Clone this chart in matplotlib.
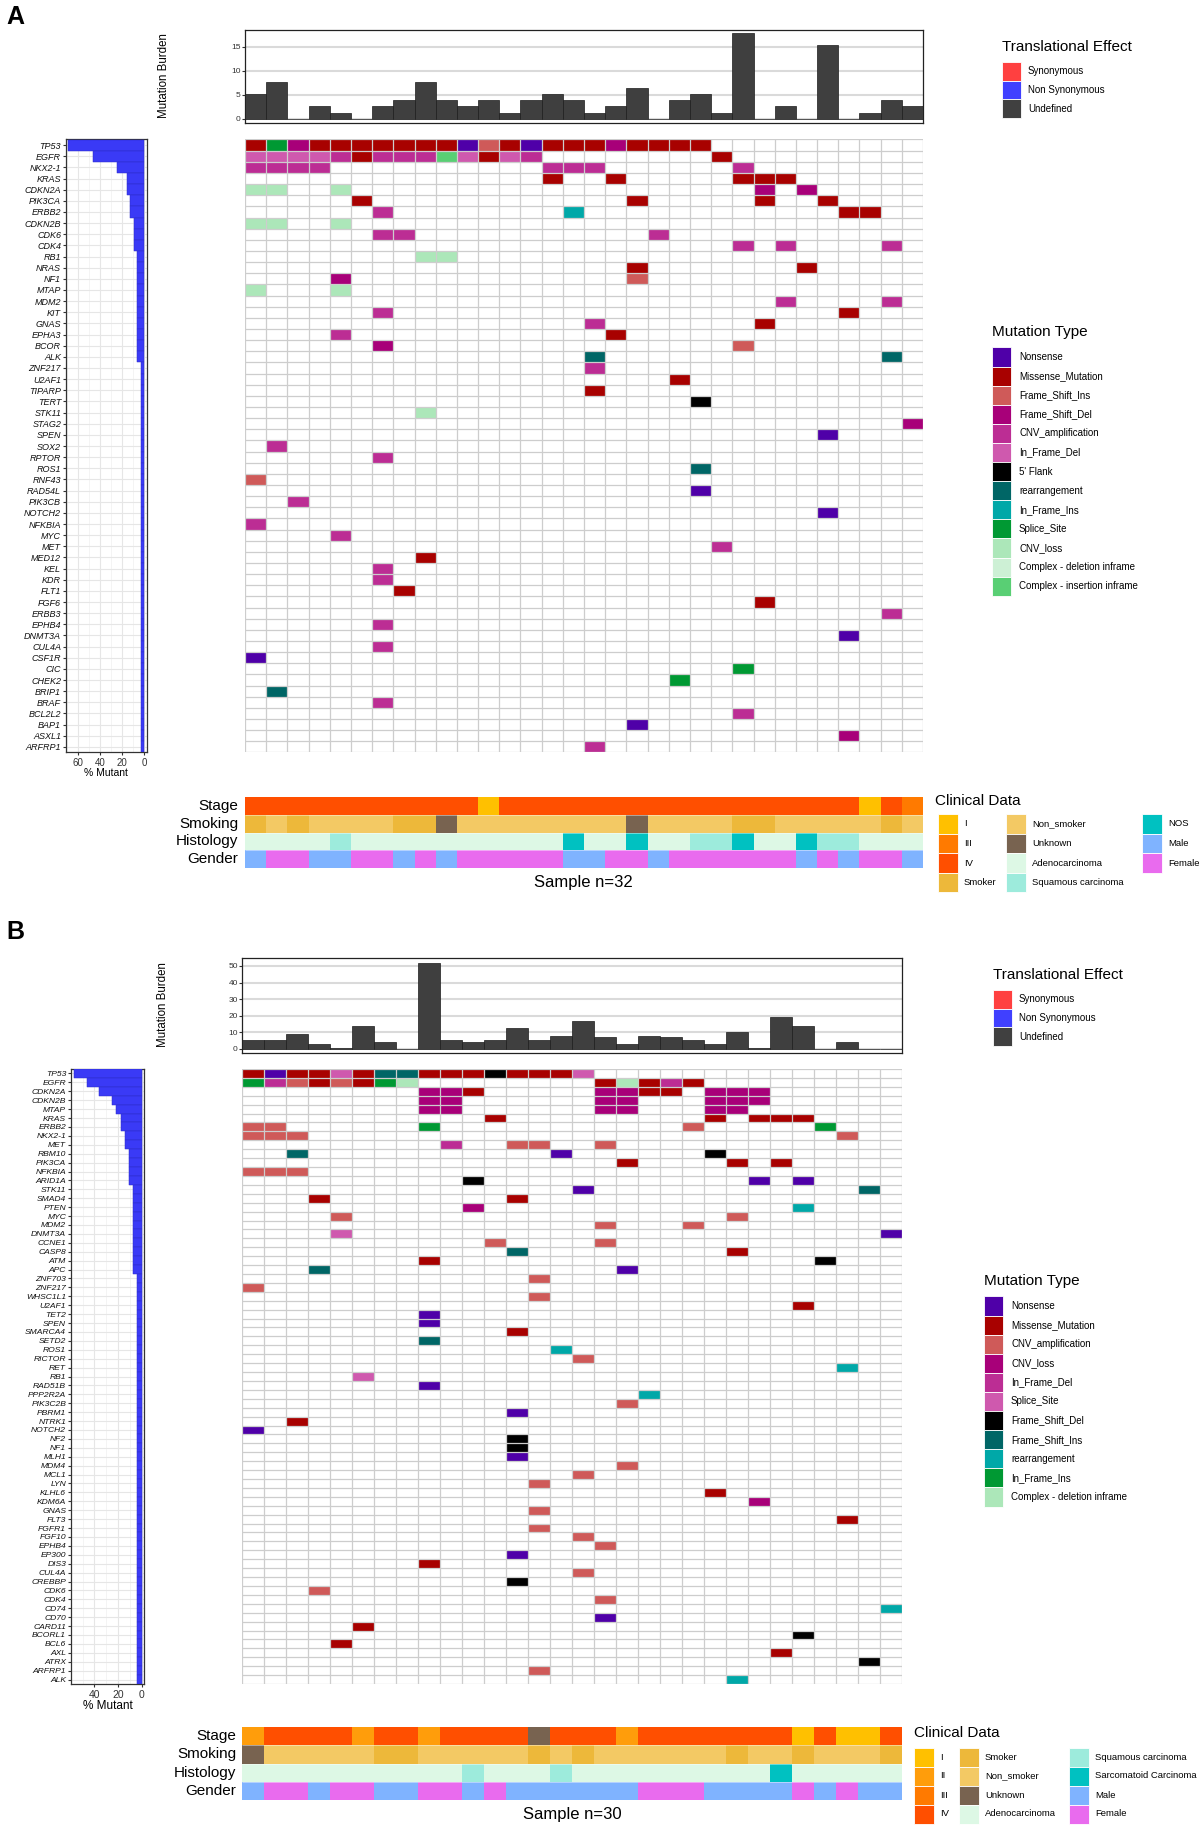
"""
Two waterfall (oncoplot) panels: mutation burden on top, % mutant bars on the
left, the gene x sample mutation grid, clinical tracks and legends.

Output:
    out.png
"""

import matplotlib.pyplot as plt
from matplotlib.patches import Rectangle


# ---------------------------------------------------------------------
# Plot style
# ---------------------------------------------------------------------

plt.rcParams.update({
    "font.family": ["Liberation Sans", "DejaVu Sans"],
    "font.size": 8,
})

W, H = 1202, 1827

# GenVisR-style mutation palette, used in legend order
PALETTE = ["#4F00A8", "#A80100", "#CF5A59", "#A80079", "#BC2D94", "#CF59AE",
           "#000000", "#006666", "#00A8A8", "#009933", "#ACE7B9", "#CDF0D5",
           "#59CF74"]

BAR_BLUE = "#3A3AF6"
BURDEN_GREY = "#3F3F3F"
TE_LABELS = ["Synonymous", "Non Synonymous", "Undefined"]
TE_COLORS = ["#FF4040", "#4040FF", "#404040"]

CLIN_COLORS = {
    "I": "#FFC000", "II": "#FF9D0B", "III": "#FF7A00", "IV": "#FF4F00",
    "Smoker": "#EDB83A", "Non_smoker": "#F3C964", "Unknown": "#786350",
    "Adenocarcinoma": "#DDF8E5", "Squamous carcinoma": "#9DEBDC",
    "NOS": "#00C1C1", "Sarcomatoid Carcinoma": "#00C1C1",
    "Male": "#7FB3FF", "Female": "#E96BEE",
}
CLIN_TRACKS = ["Stage", "Smoking", "Histology", "Gender"]


# ---------------------------------------------------------------------
# Panel A data (32 samples)
# ---------------------------------------------------------------------

GENES_A = ["TP53", "EGFR", "NKX2-1", "KRAS", "CDKN2A", "PIK3CA", "ERBB2",
           "CDKN2B", "CDK6", "CDK4", "RB1", "NRAS", "NF1", "MTAP", "MDM2",
           "KIT", "GNAS", "EPHA3", "BCOR", "ALK", "ZNF217", "U2AF1", "TIPARP",
           "TERT", "STK11", "STAG2", "SPEN", "SOX2", "RPTOR", "ROS1", "RNF43",
           "RAD54L", "PIK3CB", "NOTCH2", "NFKBIA", "MYC", "MET", "MED12",
           "KEL", "KDR", "FLT1", "FGF6", "ERBB3", "EPHB4", "DNMT3A", "CUL4A",
           "CSF1R", "CIC", "CHEK2", "BRIP1", "BRAF", "BCL2L2", "BAP1",
           "ASXL1", "ARFRP1"]

TYPES_A = ["Nonsense", "Missense_Mutation", "Frame_Shift_Ins",
           "Frame_Shift_Del", "CNV_amplification", "In_Frame_Del", "5' Flank",
           "rearrangement", "In_Frame_Ins", "Splice_Site", "CNV_loss",
           "Complex - deletion inframe", "Complex - insertion inframe"]
CODES_A = ["N", "M", "I", "D", "A", "d", "F", "R", "i", "S", "L", "c", "C"]

# one string per gene, one character per sample ('.' = no call)
MUT_A = [
    "MSDMMMMM MMNIMNMM MDMMMM.. ........",  # TP53
    "ddddAMAA ACdMdA.. ......M. ........",  # EGFR
    "AAAA.... ......AA A......A ........",  # NKX2-1
    "........ ......M. .M.....M MM......",  # KRAS
    "LL..L... ........ ........ D.D.....",  # CDKN2A
    ".....M.. ........ ..M..... M..M....",  # PIK3CA
    "......A. .......i ........ ....MM..",  # ERBB2
    "LL..L... ........ ........ ........",  # CDKN2B
    "......AA ........ ...A.... ........",  # CDK6
    "........ ........ .......A .A....A.",  # CDK4
    "........ LL...... ........ ........",  # RB1
    "........ ........ ..M..... ..M.....",  # NRAS
    "....D... ........ ..I..... ........",  # NF1
    "L...L... ........ ........ ........",  # MTAP
    "........ ........ ........ .A....A.",  # MDM2
    "......A. ........ ........ ....M...",  # KIT
    "........ ........ A....... M.......",  # GNAS
    "....A... ........ .M...... ........",  # EPHA3
    "......D. ........ .......I ........",  # BCOR
    "........ ........ R....... ......R.",  # ALK
    "........ ........ A....... ........",  # ZNF217
    "........ ........ ....M... ........",  # U2AF1
    "........ ........ M....... ........",  # TIPARP
    "........ ........ .....F.. ........",  # TERT
    "........ L....... ........ ........",  # STK11
    "........ ........ ........ .......D",  # STAG2
    "........ ........ ........ ...N....",  # SPEN
    ".A...... ........ ........ ........",  # SOX2
    "......A. ........ ........ ........",  # RPTOR
    "........ ........ .....R.. ........",  # ROS1
    "I....... ........ ........ ........",  # RNF43
    "........ ........ .....N.. ........",  # RAD54L
    "..A..... ........ ........ ........",  # PIK3CB
    "........ ........ ........ ...N....",  # NOTCH2
    "A....... ........ ........ ........",  # NFKBIA
    "....A... ........ ........ ........",  # MYC
    "........ ........ ......A. ........",  # MET
    "........ M....... ........ ........",  # MED12
    "......A. ........ ........ ........",  # KEL
    "......A. ........ ........ ........",  # KDR
    ".......M ........ ........ ........",  # FLT1
    "........ ........ ........ M.......",  # FGF6
    "........ ........ ........ ......A.",  # ERBB3
    "......A. ........ ........ ........",  # EPHB4
    "........ ........ ........ ....N...",  # DNMT3A
    "......A. ........ ........ ........",  # CUL4A
    "N....... ........ ........ ........",  # CSF1R
    "........ ........ .......S ........",  # CIC
    "........ ........ ....S... ........",  # CHEK2
    ".R...... ........ ........ ........",  # BRIP1
    "......A. ........ ........ ........",  # BRAF
    "........ ........ .......A ........",  # BCL2L2
    "........ ........ ..N..... ........",  # BAP1
    "........ ........ ........ ....D...",  # ASXL1
    "........ ........ A....... ........",  # ARFRP1
]

BURDEN_A = [5.2, 7.7, 0, 2.6, 1.3, 0, 2.6, 3.9, 7.7, 3.9, 2.6, 3.9, 1.3, 3.9,
            5.2, 3.9, 1.3, 2.6, 6.4, 0, 3.9, 5.2, 1.3, 17.9, 0, 2.6, 0, 15.4,
            0, 1.3, 3.9, 2.6]
PCT_BASE_A = 32

STAGE_A = ["IV"] * 11 + ["I"] + ["IV"] * 17 + ["I", "IV", "III"]
SMOKING_A = (["Smoker", "Non_smoker", "Smoker"] + ["Non_smoker"] * 4
             + ["Smoker"] * 2 + ["Unknown"] + ["Non_smoker"] * 8 + ["Unknown"]
             + ["Non_smoker"] * 4 + ["Smoker"] * 2 + ["Non_smoker"] * 5
             + ["Smoker", "Non_smoker"])
HISTOLOGY_A = (["Adenocarcinoma"] * 4 + ["Squamous carcinoma"]
               + ["Adenocarcinoma"] * 10 + ["NOS"] + ["Adenocarcinoma"] * 2
               + ["NOS"] + ["Adenocarcinoma"] * 2 + ["Squamous carcinoma"] * 2
               + ["NOS"] + ["Adenocarcinoma"] * 2 + ["NOS"]
               + ["Squamous carcinoma"] * 2 + ["Adenocarcinoma"] * 3)
GENDER_A = (["Male", "Female", "Female", "Male", "Male", "Female", "Female",
             "Male", "Female", "Male"] + ["Female"] * 5 + ["Male"] * 2
            + ["Female"] * 2 + ["Male"] + ["Female"] * 6
            + ["Male", "Female", "Male", "Female", "Female", "Male"])
CLIN_LEVELS_A = ["I", "III", "IV", "Smoker", "Non_smoker", "Unknown",
                 "Adenocarcinoma", "Squamous carcinoma", "NOS", "Male", "Female"]


# ---------------------------------------------------------------------
# Panel B data (30 samples)
# ---------------------------------------------------------------------

GENES_B = ["TP53", "EGFR", "CDKN2A", "CDKN2B", "MTAP", "KRAS", "ERBB2",
           "NKX2-1", "MET", "RBM10", "PIK3CA", "NFKBIA", "ARID1A", "STK11",
           "SMAD4", "PTEN", "MYC", "MDM2", "DNMT3A", "CCNE1", "CASP8", "ATM",
           "APC", "ZNF703", "ZNF217", "WHSC1L1", "U2AF1", "TET2", "SPEN",
           "SMARCA4", "SETD2", "ROS1", "RICTOR", "RET", "RB1", "RAD51B",
           "PPP2R2A", "PIK3C2B", "PBRM1", "NTRK1", "NOTCH2", "NF2", "NF1",
           "MLH1", "MDM4", "MCL1", "LYN", "KLHL6", "KDM6A", "GNAS", "FLT3",
           "FGFR1", "FGF10", "EPHB4", "EP300", "DIS3", "CUL4A", "CREBBP",
           "CDK6", "CDK4", "CD74", "CD70", "CARD11", "BCORL1", "BCL6", "AXL",
           "ATRX", "ARFRP1", "ALK"]

TYPES_B = ["Nonsense", "Missense_Mutation", "CNV_amplification", "CNV_loss",
           "In_Frame_Del", "Splice_Site", "Frame_Shift_Del", "Frame_Shift_Ins",
           "rearrangement", "In_Frame_Ins", "Complex - deletion inframe"]
CODES_B = ["N", "M", "A", "L", "d", "S", "D", "I", "R", "i", "C"]

MUT_B = [
    "MNMMSMIIMM MDMMMS.... ..........",  # TP53
    "idAMAMiC.. ......MCMd M.........",  # EGFR
    "........LL M.....LLMM .LLL......",  # CDKN2A
    "........LL ......LL.. .LLL......",  # CDKN2B
    "........LL ......LL.. .LL.......",  # MTAP
    ".......... .M........ .M.MMM....",  # KRAS
    "AA......i. .......... A.....i...",  # ERBB2
    "AAA....... .......... .......A..",  # NKX2-1
    ".........d ..AA..A... ..........",  # MET
    "..I....... ....N..... .D........",  # RBM10
    ".......... .......M.. ..M.M.....",  # PIK3CA
    "AAA....... .......... ..........",  # NFKBIA
    ".......... D......... ...N.N....",  # ARID1A
    ".......... .....N.... ........I.",  # STK11
    "...M...... ..M....... ..........",  # SMAD4
    ".......... L......... .....R....",  # PTEN
    "....A..... .......... ..A.......",  # MYC
    ".......... ......A... A.........",  # MDM2
    "....S..... .......... .........N",  # DNMT3A
    ".......... .A....A... ..........",  # CCNE1
    ".......... ..I....... ..M.......",  # CASP8
    "........M. .......... ......D...",  # ATM
    "...I...... .......N.. ..........",  # APC
    ".......... ...A...... ..........",  # ZNF703
    "A......... .......... ..........",  # ZNF217
    ".......... ...A...... ..........",  # WHSC1L1
    ".......... .......... .....M....",  # U2AF1
    "........N. .......... ..........",  # TET2
    "........N. .......... ..........",  # SPEN
    ".......... ..M....... ..........",  # SMARCA4
    "........I. .......... ..........",  # SETD2
    ".......... ....R..... ..........",  # ROS1
    ".......... .....A.... ..........",  # RICTOR
    ".......... .......... .......R..",  # RET
    ".....S.... .......... ..........",  # RB1
    "........N. .......... ..........",  # RAD51B
    ".......... ........R. ..........",  # PPP2R2A
    ".......... .......A.. ..........",  # PIK3C2B
    ".......... ..N....... ..........",  # PBRM1
    "..M....... .......... ..........",  # NTRK1
    "N......... .......... ..........",  # NOTCH2
    ".......... ..D....... ..........",  # NF2
    ".......... ..D....... ..........",  # NF1
    ".......... ..N....... ..........",  # MLH1
    ".......... .......A.. ..........",  # MDM4
    ".......... .....A.... ..........",  # MCL1
    ".......... ...A...... ..........",  # LYN
    ".......... .......... .M........",  # KLHL6
    ".......... .......... ...L......",  # KDM6A
    ".......... ...A...... ..........",  # GNAS
    ".......... .......... .......M..",  # FLT3
    ".......... ...A...... ..........",  # FGFR1
    ".......... .....A.... ..........",  # FGF10
    ".......... ......A... ..........",  # EPHB4
    ".......... ..N....... ..........",  # EP300
    "........M. .......... ..........",  # DIS3
    ".......... .....A.... ..........",  # CUL4A
    ".......... ..D....... ..........",  # CREBBP
    "...A...... .......... ..........",  # CDK6
    ".......... ......A... ..........",  # CDK4
    ".......... .......... .........R",  # CD74
    ".......... ......N... ..........",  # CD70
    ".....M.... .......... ..........",  # CARD11
    ".......... .......... .....D....",  # BCORL1
    "....M..... .......... ..........",  # BCL6
    ".......... .......... ....M.....",  # AXL
    ".......... .......... ........D.",  # ATRX
    ".......... ...A...... ..........",  # ARFRP1
    ".......... .......... ..R.......",  # ALK
]

BURDEN_B = [5.5, 5.5, 8.8, 2.8, 0.8, 14.0, 4.4, 0, 52.0, 5.5, 4.4, 5.5, 12.7,
            5.5, 8.0, 16.6, 6.9, 2.8, 8.0, 6.9, 5.5, 2.8, 10.0, 0.8, 19.3,
            14.0, 0, 4.4, 0, 0]
PCT_BASE_B = 28

STAGE_B = (["II"] + ["IV"] * 4 + ["II"] + ["IV"] * 2 + ["II"] + ["IV"] * 4
           + ["Unknown"] + ["IV"] * 3 + ["II"] + ["IV"] * 7
           + ["I", "IV", "I", "I", "IV"])
SMOKING_B = (["Unknown"] + ["Non_smoker"] * 5 + ["Smoker"] * 2
             + ["Non_smoker"] * 5 + ["Smoker", "Non_smoker", "Smoker"]
             + ["Non_smoker"] * 6 + ["Smoker"] + ["Non_smoker"] * 2
             + ["Smoker"] + ["Non_smoker"] * 3 + ["Smoker"])
HISTOLOGY_B = (["Adenocarcinoma"] * 10 + ["Squamous carcinoma"]
               + ["Adenocarcinoma"] * 3 + ["Squamous carcinoma"]
               + ["Adenocarcinoma"] * 9 + ["Sarcomatoid Carcinoma"]
               + ["Adenocarcinoma"] * 5)
GENDER_B = (["Male", "Female", "Female", "Male", "Female", "Female", "Male",
             "Male", "Female", "Female", "Male", "Female"] + ["Male"] * 6
            + ["Female"] * 3 + ["Male"] * 4
            + ["Female", "Male", "Female", "Male", "Male"])
CLIN_LEVELS_B = ["I", "II", "III", "IV", "Smoker", "Non_smoker", "Unknown",
                 "Adenocarcinoma", "Squamous carcinoma",
                 "Sarcomatoid Carcinoma", "Male", "Female"]


# ---------------------------------------------------------------------
# Helpers
# ---------------------------------------------------------------------

fig = plt.figure(figsize=(W / 100, H / 100), dpi=100)


def px_axes(box):
    """Axes from a pixel box (x0, y0, x1, y1), origin at the top left."""
    x0, y0, x1, y1 = box
    return fig.add_axes([x0 / W, 1 - y1 / H, (x1 - x0) / W, (y1 - y0) / H])


def draw_panel(genes, mut_rows, codes, burden, pct_base, clinical, lay):
    rows = [r.replace(" ", "") for r in mut_rows]
    n = len(burden)
    g = len(genes)
    code_color = {c: PALETTE[i] for i, c in enumerate(codes)}

    # mutation burden
    ax = px_axes(lay["burden"])
    ax.bar(range(n), burden, width=1.0, color=BURDEN_GREY,
           edgecolor="#1C1C1C", linewidth=0.5, zorder=3)
    ax.set_xlim(-0.5, n - 0.5)
    ax.set_ylim(*lay["burden_ylim"])
    ax.set_yticks(lay["burden_ticks"])
    ax.set_xticks([])
    ax.yaxis.grid(True, color="#DADADA", linewidth=1.5)
    ax.set_axisbelow(True)
    ax.tick_params(axis="y", labelsize=6, length=2, pad=1,
                   colors="#333333")
    for s in ax.spines.values():
        s.set_color("#222222")
        s.set_linewidth(0.9)

    # mutation grid
    ax = px_axes(lay["grid"])
    ax.set_xlim(0, n)
    ax.set_ylim(g, 0)
    ax.vlines(range(n + 1), 0, g, color="#CDCDCD", linewidth=0.9)
    ax.hlines(range(g + 1), 0, n, color="#CDCDCD", linewidth=0.9)
    for r, row in enumerate(rows):
        for c, ch in enumerate(row):
            if ch != ".":
                ax.add_patch(Rectangle((c, r), 1, 1,
                                       facecolor=code_color[ch],
                                       edgecolor="#D8D8D8", linewidth=0.7))
    ax.axis("off")

    # % mutant bars
    counts = [sum(ch != "." for ch in row) for row in rows]
    pct = [100 * k / pct_base for k in counts]
    ax = px_axes(lay["pct"])
    ax.barh(range(g), pct, height=1.0, color=BAR_BLUE,
            edgecolor="#2C2CC8", linewidth=0.35, zorder=3)
    ax.set_ylim(g - 0.5, -0.5)
    ax.set_xlim(*lay["pct_xlim"])
    ax.set_yticks(range(g))
    ax.set_yticklabels(genes, fontsize=lay["gene_size"], style="italic",
                       color="#111111")
    ax.set_xticks(lay["pct_ticks"])
    ax.set_xticks(lay["pct_minor"], minor=True)
    ax.grid(True, which="major", color="#E6E6E6", linewidth=0.8)
    ax.grid(True, which="minor", axis="x", color="#F0F0F0", linewidth=0.5)
    ax.set_axisbelow(True)
    ax.tick_params(axis="y", length=2.5, pad=1, colors="#333333",
                   labelcolor="#111111")
    ax.tick_params(axis="x", which="major", labelsize=lay["pct_tick_size"],
                   length=2.5, pad=1.5, colors="#333333")
    ax.tick_params(axis="x", which="minor", length=0)
    ax.set_xlabel("% Mutant", fontsize=lay["pct_label_size"], labelpad=0)
    for s in ax.spines.values():
        s.set_color("#333333")
        s.set_linewidth(0.9)

    # clinical tracks
    ax = px_axes(lay["clin"])
    ax.set_xlim(-0.5, n - 0.5)
    ax.set_ylim(len(clinical), 0)
    for r, track in enumerate(clinical):
        for c, level in enumerate(track):
            ax.add_patch(Rectangle((c - 0.5, r), 1, 1,
                                   facecolor=CLIN_COLORS[level],
                                   edgecolor="none"))
    ax.hlines(range(1, len(clinical)), -0.5, n - 0.5, color="white",
              linewidth=0.5, alpha=0.6)
    ax.axis("off")


# ---------------------------------------------------------------------
# Layouts (pixel boxes)
# ---------------------------------------------------------------------

LAYOUT_A = {
    "burden": (245, 29.5, 923, 123), "burden_ylim": (-0.85, 18.6),
    "burden_ticks": [0, 5, 10, 15],
    "grid": (245, 139.5, 923, 752.5),
    "pct": (66, 139.5, 146.7, 752.5), "pct_xlim": (71, -2.4),
    "pct_ticks": [60, 40, 20, 0], "pct_minor": [70, 50, 30, 10],
    "gene_size": 6.5, "pct_tick_size": 7, "pct_label_size": 7.5,
    "clin": (245, 797, 923, 868),
}

LAYOUT_B = {
    "burden": (242, 958, 902, 1052.5), "burden_ylim": (-2.2, 54.8),
    "burden_ticks": [0, 10, 20, 30, 40, 50],
    "grid": (242, 1069, 902, 1684),
    "pct": (71, 1069, 144.3, 1684), "pct_xlim": (59.8, -2.3),
    "pct_ticks": [40, 20, 0], "pct_minor": [50, 30, 10],
    "gene_size": 6.1, "pct_tick_size": 7.5, "pct_label_size": 8.5,
    "clin": (242, 1727, 902, 1800),
}


# ---------------------------------------------------------------------
# Generate figure
# ---------------------------------------------------------------------

draw_panel(GENES_A, MUT_A, CODES_A, BURDEN_A, PCT_BASE_A,
           [STAGE_A, SMOKING_A, HISTOLOGY_A, GENDER_A], LAYOUT_A)
draw_panel(GENES_B, MUT_B, CODES_B, BURDEN_B, PCT_BASE_B,
           [STAGE_B, SMOKING_B, HISTOLOGY_B, GENDER_B], LAYOUT_B)

# overlay for free text and legends, in pixel coordinates
ov = fig.add_axes([0, 0, 1, 1])
ov.set_xlim(0, W)
ov.set_ylim(H, 0)
ov.axis("off")


def key_legend(x, y_title, y_first, title, labels, colors, step=19.1,
               sw=19, text_dx=27, size=7):
    ov.text(x, y_title, title, fontsize=11, va="center", ha="left")
    for i, (lab, col) in enumerate(zip(labels, colors)):
        yc = y_first + i * step
        ov.add_patch(Rectangle((x, yc - step / 2), sw, step, facecolor=col,
                               edgecolor="white", linewidth=0.6))
        ov.text(x + text_dx, yc, lab, fontsize=size, va="center", ha="left")


def clinical_legend(x_title, y_title, levels, col_x, row_y, text_dx=26):
    ov.text(x_title, y_title, "Clinical Data", fontsize=11, va="center")
    step = row_y[1] - row_y[0]
    for i, level in enumerate(levels):
        cx = col_x[i // 4]
        yc = row_y[i % 4]
        ov.add_patch(Rectangle((cx, yc - step / 2), 20, step,
                               facecolor=CLIN_COLORS[level],
                               edgecolor="white", linewidth=0.6))
        ov.text(cx + text_dx, yc, level, fontsize=6.8, va="center")


# panel letters
ov.text(6, 17, "A", fontsize=18, fontweight="bold", va="center")
ov.text(6, 932, "B", fontsize=18, fontweight="bold", va="center")

# mutation burden titles
ov.text(164, 76, "Mutation Burden", fontsize=8.3, rotation=90,
        ha="center", va="center")
ov.text(163, 1005, "Mutation Burden", fontsize=8.3, rotation=90,
        ha="center", va="center")

# clinical track labels and sample counts
for box, x_lab in [(LAYOUT_A["clin"], 238), (LAYOUT_B["clin"], 236)]:
    y0, y1 = box[1], box[3]
    h = (y1 - y0) / len(CLIN_TRACKS)
    for i, lab in enumerate(CLIN_TRACKS):
        ov.text(x_lab, y0 + (i + 0.5) * h, lab, fontsize=11, ha="right",
                va="center")
ov.text(583, 882, "Sample n=%d" % len(BURDEN_A), fontsize=12,
        ha="center", va="center")
ov.text(572, 1814, "Sample n=%d" % len(BURDEN_B), fontsize=12,
        ha="center", va="center")

# legends, panel A
key_legend(1002, 47, 71.5, "Translational Effect", TE_LABELS, TE_COLORS,
           step=18.6, text_dx=26)
key_legend(992, 332, 357, "Mutation Type", TYPES_A,
           PALETTE[:len(TYPES_A)])
clinical_legend(935, 801, CLIN_LEVELS_A, [938, 1006, 1142],
                [824, 843.5, 863, 882.5])

# legends, panel B
key_legend(993, 975, 999.5, "Translational Effect", TE_LABELS, TE_COLORS,
           step=18.6, text_dx=26)
key_legend(984, 1281, 1306, "Mutation Type", TYPES_B,
           PALETTE[:len(TYPES_B)])
clinical_legend(914, 1733, CLIN_LEVELS_B, [914, 959, 1069],
                [1757, 1776, 1795, 1814])

fig.savefig("out.png", dpi=100)
